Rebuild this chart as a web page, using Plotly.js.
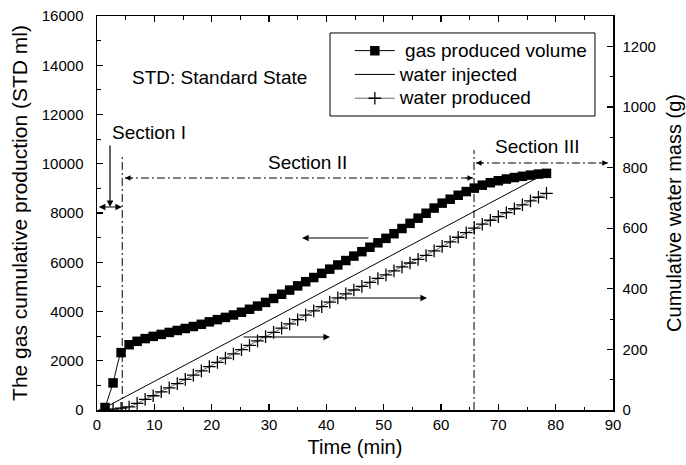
<!DOCTYPE html>
<html>
<head>
<meta charset="utf-8">
<script src="https://cdn.plot.ly/plotly-3.0.1.min.js"></script>
<style>html,body{margin:0;padding:0;background:#fff;}#chart{width:686px;height:465px;}</style>
</head>
<body>
<div id="chart"></div>
<script>
// Time of each measurement (min)
const time = [1.4, 2.8, 4.2, 5.6, 7.0, 8.4, 9.8, 11.2, 12.6, 14.0, 15.4, 16.8, 18.2, 19.6, 21.0, 22.4, 23.8, 25.2, 26.6, 28.0,
  29.4, 30.8, 32.2, 33.6, 35.0, 36.4, 37.8, 39.2, 40.6, 42.0, 43.4, 44.8, 46.2, 47.6, 49.0, 50.4, 51.8, 53.2, 54.6, 56.0,
  57.4, 58.8, 60.2, 61.6, 63.0, 64.4, 65.8, 67.2, 68.6, 70.0, 71.4, 72.8, 74.2, 75.6, 77.0, 78.4];
// Gas produced volume (STD ml)
const gasVolume = [100, 1100, 2330, 2650, 2790, 2900, 2990, 3070, 3150, 3230, 3310, 3390, 3480, 3580, 3670, 3760, 3860, 3970, 4090, 4220,
  4370, 4530, 4700, 4870, 5040, 5210, 5380, 5550, 5720, 5890, 6070, 6250, 6430, 6610, 6790, 6970, 7160, 7370, 7580, 7790,
  7990, 8200, 8400, 8560, 8720, 8870, 9010, 9130, 9230, 9310, 9380, 9440, 9490, 9540, 9580, 9610];
// Water produced (g)
const waterProduced = [0, 3, 6, 10, 22, 35, 47, 60, 73, 87, 101, 115, 129, 143, 157, 171, 185, 199, 213, 228,
  242, 256, 270, 284, 298, 313, 327, 341, 356, 370, 383, 396, 408, 421, 434, 446, 459, 472, 485, 497,
  510, 525, 540, 555, 570, 585, 600, 613, 626, 638, 651, 664, 677, 690, 702, 715];
// Water injected (g), straight line between start and end
const injectedTime = [1.4, 78.4];
const waterInjected = [8, 782];
// Legend names
const seriesNames = ['\u00a0gas produced volume', 'water injected', 'water produced'];

const FONT = 'Arial, "Liberation Sans", Helvetica, sans-serif';
const big = s => '<span style="font-size:19px">' + s + '</span>';

const traces = [
  {
    x: time, y: gasVolume, name: big(seriesNames[0]), type: 'scatter', mode: 'lines+markers',
    line: {color: '#000', width: 1, shape: 'spline', smoothing: 0.6},
    marker: {symbol: 'square', size: 9.5, color: '#000'},
    yaxis: 'y'
  },
  {
    x: injectedTime, y: waterInjected, name: big(seriesNames[1]), type: 'scatter', mode: 'lines',
    line: {color: '#000', width: 1},
    yaxis: 'y2'
  },
  {
    x: time, y: waterProduced, name: big(seriesNames[2]), type: 'scatter', mode: 'lines+markers',
    line: {color: '#000', width: 0.6},
    marker: {symbol: 'cross-thin', size: 9, color: '#000', line: {color: '#000', width: 1.3}},
    yaxis: 'y2'
  }
];

function arrow(x, y, ax, ay, extra) {
  return Object.assign({
    x: x, y: y, ax: ax, ay: ay, xref: 'x', yref: 'y', axref: 'x', ayref: 'y',
    text: '', showarrow: true, arrowhead: 2, arrowsize: 1.1, arrowwidth: 1.2, arrowcolor: '#000'
  }, extra || {});
}
function label(x, y, text, anchor) {
  return {x: x, y: y, xref: 'x', yref: 'y', text: text, showarrow: false,
    xanchor: anchor || 'center', yanchor: 'middle', font: {family: FONT, size: 19, color: '#000'}};
}

const annotations = [
  label(5.76, 13523, 'STD: Standard State', 'left'),
  label(2.27, 11289, 'Section I', 'left'),
  label(36.8, 10071, 'Section II'),
  label(76.9, 10721, 'Section III'),
  // Section I arrows
  arrow(2.27, 8244, 2.27, 10802),
  arrow(4.36, 8244, 0.05, 8244, {arrowside: 'end+start'}),
  // Section II arrow heads
  arrow(4.88, 9421, 6.4, 9421, {arrowwidth: 1}),
  arrow(65.58, 9421, 64.0, 9421, {arrowwidth: 1}),
  // Section III arrow heads
  arrow(66.1, 10030, 67.6, 10030, {arrowwidth: 1}),
  arrow(89.1, 10030, 87.6, 10030, {arrowwidth: 1}),
  // Axis-pointing arrows
  arrow(35.76, 6985, 47.6, 6985),
  arrow(40.64, 2964, 25.29, 2964),
  arrow(57.56, 4548, 42.03, 4548)
];

const dd = '8px,3px,2px,3px';
const shapes = [
  {type: 'line', xref: 'x', yref: 'y', x0: 4.4, x1: 4.4, y0: 0, y1: 10396, line: {color: '#000', width: 1, dash: dd}},
  {type: 'line', xref: 'x', yref: 'y', x0: 65.76, x1: 65.76, y0: 0, y1: 10558, line: {color: '#000', width: 1, dash: dd}},
  {type: 'line', xref: 'x', yref: 'y', x0: 4.88, x1: 65.58, y0: 9421, y1: 9421, line: {color: '#000', width: 1, dash: dd}},
  {type: 'line', xref: 'x', yref: 'y', x0: 66.1, x1: 89.1, y0: 10030, y1: 10030, line: {color: '#000', width: 1, dash: dd}},
  // legend frame
  {type: 'rect', xref: 'paper', yref: 'paper', x0: 0.4516, x1: 0.9651, y0: 0.7462, y1: 0.9569,
   line: {color: '#000', width: 1}, fillcolor: '#fff', layer: 'below'}
];

const axisBase = {
  showline: true, linecolor: '#000', linewidth: 1.5, showgrid: false, zeroline: false,
  ticks: 'inside', ticklen: 6, tickwidth: 1.2, tickcolor: '#000', tickformat: 'd',
  tickfont: {family: FONT, size: 15, color: '#000'}
};

const layout = {
  width: 686, height: 465,
  margin: {l: 97, r: 73, t: 16, b: 55, pad: 0},
  paper_bgcolor: '#fff', plot_bgcolor: 'rgba(0,0,0,0)',
  font: {family: FONT, size: 15, color: '#000'},
  showlegend: true,
  legend: {x: 0.49, y: 0.955, xanchor: 'left', yanchor: 'top', bgcolor: 'rgba(0,0,0,0)', borderwidth: 0,
    font: {family: FONT, size: 16, color: '#000'}, itemwidth: 40, tracegroupgap: 0},
  xaxis: Object.assign({}, axisBase, {
    range: [0, 90], tick0: 0, dtick: 10, mirror: 'ticks',
    minor: {dtick: 5, ticks: 'inside', ticklen: 3.5, tickwidth: 1, tickcolor: '#000'},
    title: {text: 'Time (min)', font: {family: FONT, size: 20, color: '#000'}, standoff: 8}
  }),
  yaxis: Object.assign({}, axisBase, {
    range: [0, 16000], tick0: 0, dtick: 2000, ticklabelstandoff: 9,
    minor: {dtick: 1000, ticks: 'inside', ticklen: 3.5, tickwidth: 1, tickcolor: '#000'},
    title: {text: 'The gas cumulative production (STD ml)', font: {family: FONT, size: 21, color: '#000'}, standoff: 8}
  }),
  yaxis2: Object.assign({}, axisBase, {
    overlaying: 'y', side: 'right', range: [0, 1300], tick0: 0, dtick: 200, ticklabelstandoff: 5,
    minor: {dtick: 100, ticks: 'inside', ticklen: 3.5, tickwidth: 1, tickcolor: '#000'},
    title: {text: 'Cumulative water mass (g)', font: {family: FONT, size: 20, color: '#000'}, standoff: 12}
  }),
  annotations: annotations,
  shapes: shapes
};

Plotly.newPlot('chart', traces, layout, {displayModeBar: false, staticPlot: true});
</script>
</body>
</html>
